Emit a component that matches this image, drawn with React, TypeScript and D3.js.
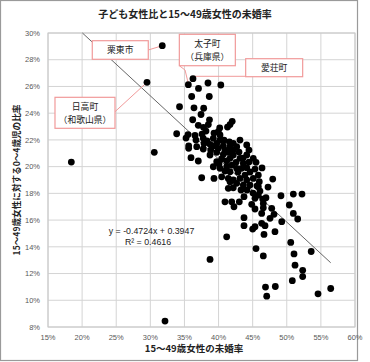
import React from 'react';
import * as d3 from 'd3';

const TITLE = '子ども女性比と15～49歳女性の未婚率';
const X_TITLE = '15～49歳女性の未婚率';
const Y_TITLE = '15～49歳女性に対する0～4歳児の比率';

const X_TICKS = [15, 20, 25, 30, 35, 40, 45, 50, 55, 60];
const Y_TICKS = [8, 10, 12, 14, 16, 18, 20, 22, 24, 26, 28, 30];

// 15～49歳女性の未婚率 (%)
const unmarriedRate = [
  31.75, 29.51, 36.25, 35.57, 38.45, 37.06, 40.33, 36.06, 38.64, 34.28,
  36.4, 37.82, 37.43, 36.21, 38.67, 37.03, 38.5, 37.79, 40.17, 41.31,
  41.68, 42.0, 33.86, 35.52, 37.57, 39.96, 36.69, 37.76, 35.62, 35.62,
  36.8, 37.87, 39.23, 40.21, 38.75, 39.73, 40.21, 41.58, 42.16, 37.76,
  38.85, 39.96, 40.7, 41.68, 42.66, 44.13, 35.96, 37.03, 38.75, 39.73,
  40.7, 41.43, 42.16, 43.14, 44.13, 45.09, 39.73, 40.46, 41.19, 41.68,
  42.56, 43.63, 45.49, 39.23, 40.21, 41.19, 41.68, 42.66, 43.39, 44.13,
  45.34, 37.53, 39.33, 40.46, 41.43, 42.16, 43.14, 44.13, 45.09, 45.83,
  41.68, 42.66, 43.63, 44.61, 45.97, 45.83, 46.07, 47.94, 42.16, 41.43,
  40.94, 41.93, 42.26, 43.04, 43.73, 44.86, 45.34, 45.83, 46.47, 46.95,
  46.56, 46.56, 45.34, 46.32, 47.79, 47.54, 48.13, 49.15, 50.96, 52.23,
  50.37, 50.96, 51.6, 49.26, 43.73, 43.73, 45.0, 45.34, 46.32, 46.81,
  46.66, 48.27, 41.19, 50.58, 45.49, 46.56, 51.06, 53.58, 51.21, 52.33,
  52.33, 50.81, 46.88, 48.32, 47.06, 54.58, 56.44, 38.75, 32.15, 18.42,
  30.58, 35.23, 36.55, 38.31, 39.19, 40.94, 42.12, 43.0, 43.58, 44.46,
  42.85, 43.88, 44.61, 40.94, 40.07, 41.97, 46.37, 44.17, 45.05, 43.29,
  47.25, 44.46, 38.16, 39.33, 40.8, 43.14, 45.64,
];

// 15～49歳女性に対する0～4歳児の比率 (%)
const childWomanRatio = [
  29.05, 26.31, 26.58, 26.13, 26.26, 25.85, 26.11, 25.25, 25.25, 24.48,
  24.4, 24.37, 23.9, 23.51, 23.5, 23.09, 23.15, 22.94, 22.89, 22.96,
  23.15, 23.39, 22.46, 22.4, 22.44, 22.61, 21.99, 22.12, 21.56, 21.37,
  21.49, 21.74, 22.12, 22.37, 21.67, 21.74, 21.99, 21.86, 21.74, 21.32,
  21.24, 21.37, 21.56, 21.49, 21.49, 21.62, 20.67, 20.42, 20.87, 21.07,
  20.92, 21.07, 20.87, 20.62, 20.87, 20.62, 20.37, 20.57, 20.42, 20.62,
  20.32, 20.25, 20.32, 19.99, 19.87, 19.99, 19.62, 19.87, 19.87, 19.92,
  19.82, 19.17, 19.12, 19.24, 19.12, 19.0, 19.12, 19.0, 19.12, 19.37,
  18.87, 18.75, 18.62, 18.62, 18.87, 18.5, 18.17, 19.07, 18.42, 18.38,
  17.37, 17.37, 17.0, 17.37, 17.75, 17.18, 17.63, 17.87, 17.57, 17.67,
  17.25, 16.92, 16.83, 16.5, 16.88, 16.13, 16.43, 17.82, 17.95, 17.95,
  17.13, 16.5, 16.08, 15.88, 16.18, 15.58, 15.33, 15.5, 15.76, 15.58,
  14.93, 15.13, 14.75, 14.33, 13.87, 13.32, 13.47, 13.65, 12.63, 12.24,
  11.77, 11.47, 10.99, 11.03, 10.31, 10.48, 10.88, 13.06, 8.44, 20.34,
  21.07, 22.14, 22.33, 21.92, 21.54, 21.24, 21.24, 21.09, 20.64, 20.34,
  19.6, 19.37, 19.6, 19.67, 20.19, 20.12, 19.9, 18.25, 18.02, 18.25,
  18.47, 21.24, 22.66, 22.51, 21.99, 21.99, 18.55,
];

const SLOPE = -0.4724;
const INTERCEPT = 0.3947;
const EQ_LABEL = 'y = -0.4724x + 0.3947';
const R2_LABEL = 'R² = 0.4616';

// callout labels and the index of the point each one names
const calloutLines = [['栗東市'], ['太子町', '（兵庫県）'], ['愛荘町'], ['日高町', '（和歌山県）']];
const calloutPoint = [0, 3, 2, 1];

const W = 370;
const H = 362;
const M = { left: 48, right: 355, top: 33, bottom: 327 };
const PINK = '#f19a9a';
const LATIN = "'Liberation Sans', Arial, 'Noto Sans CJK JP', sans-serif";
const CJK = "'Noto Sans CJK JP', 'Liberation Sans', sans-serif";

// box geometry relative to the named point (pixels)
const calloutLayout = [
  { bx: -70, by: -5, bw: 56, bh: 18.6, leader: [[-14, 4.3], [0, 0]] },
  { bx: -9, by: -50.4, bw: 56, bh: 31.4, leader: [[-9, -19], [-3.3, -14.7], [0, -1]] },
  { bx: 52.7, by: -20, bw: 57, bh: 18, leader: [[52.7, -2.4], [1, -2.4]] },
  { bx: -92, by: 15, bw: 60, bh: 31, leader: [[-32, 29.4], [0, 0]] },
];

export default function App() {
  const x = d3.scaleLinear().domain([15, 60]).range([M.left, M.right]);
  const y = d3.scaleLinear().domain([8, 30]).range([M.bottom, M.top]);

  const xStart = ((INTERCEPT - 0.3) / -SLOPE) * 100;
  const xEnd = d3.max(unmarriedRate) as number;
  const fit = (v: number) => (SLOPE * (v / 100) + INTERCEPT) * 100;
  const line = d3.line<number>().x((d) => x(d)).y((d) => y(fit(d)));

  return (
    <svg width={W} height={H} style={{ position: 'absolute', left: 0, top: 0, background: '#fff' }}>
      <rect x={0} y={0} width={W} height={H} fill="#fff" />
      <rect x={0.5} y={0.5} width={357} height={360} fill="#fff" stroke="#9a9a9a" strokeWidth={1.2} />

      <text x={185} y={18} textAnchor="middle" fontFamily={CJK} fontWeight="bold" fontSize={10} fill="#222">
        {TITLE}
      </text>

      {X_TICKS.map((t) => (
        <line key={'gx' + t} x1={x(t)} x2={x(t)} y1={M.top} y2={M.bottom} stroke="#d4d4d4" strokeWidth={1} />
      ))}
      {Y_TICKS.map((t) => (
        <line key={'gy' + t} x1={M.left} x2={M.right} y1={y(t)} y2={y(t)} stroke="#d4d4d4" strokeWidth={1} />
      ))}
      <rect x={M.left} y={M.top} width={M.right - M.left} height={M.bottom - M.top} fill="none" stroke="#c8c8c8" />

      {X_TICKS.map((t) => (
        <text key={'tx' + t} x={x(t)} y={M.bottom + 13} textAnchor="middle" fontFamily={LATIN} fontSize={7.5} fill="#595959">
          {t + '%'}
        </text>
      ))}
      {Y_TICKS.map((t) => (
        <text key={'ty' + t} x={M.left - 8} y={y(t) + 2.7} textAnchor="end" fontFamily={LATIN} fontSize={7.5} fill="#595959">
          {t + '%'}
        </text>
      ))}

      <text x={194} y={352} textAnchor="middle" fontFamily={CJK} fontWeight="bold" fontSize={9.5} fill="#222">
        {X_TITLE}
      </text>
      <text
        transform={`translate(${19.5},${180}) rotate(-90)`}
        textAnchor="middle"
        fontFamily={CJK}
        fontWeight="bold"
        fontSize={8.6}
        fill="#222"
      >
        {Y_TITLE}
      </text>

      <path d={line([xStart, xEnd]) || ''} fill="none" stroke="#555" strokeWidth={0.9} />

      {calloutLines.map((lines, i) => {
        const p = calloutPoint[i];
        const px = x(unmarriedRate[p]);
        const py = y(childWomanRatio[p]);
        const L = calloutLayout[i];
        const pts = L.leader.map(([dx, dy]) => `${px + dx},${py + dy}`).join(' ');
        const bx = px + L.bx;
        const by = py + L.by;
        return (
          <g key={'c' + i}>
            <polyline points={pts} fill="none" stroke={PINK} strokeWidth={1} />
            <rect x={bx} y={by} width={L.bw} height={L.bh} fill="#fff" stroke={PINK} strokeWidth={1.2} />
            {lines.map((s, j) => (
              <text
                key={j}
                x={bx + L.bw / 2}
                y={lines.length === 1 ? by + L.bh / 2 + 3.3 : by + 12.6 + j * 13}
                textAnchor="middle"
                fontFamily={CJK}
                fontSize={8.8}
                fill="#222"
              >
                {s}
              </text>
            ))}
          </g>
        );
      })}

      {unmarriedRate.map((v, i) => (
        <circle key={'p' + i} cx={x(v)} cy={y(childWomanRatio[i])} r={3.4} fill="#000" />
      ))}

      <text x={151.5} y={233.5} textAnchor="middle" fontFamily={LATIN} fontSize={8.8} fill="#222">
        {EQ_LABEL}
      </text>
      <text x={148} y={245} textAnchor="middle" fontFamily={LATIN} fontSize={8.8} fill="#222">
        {R2_LABEL}
      </text>
    </svg>
  );
}
